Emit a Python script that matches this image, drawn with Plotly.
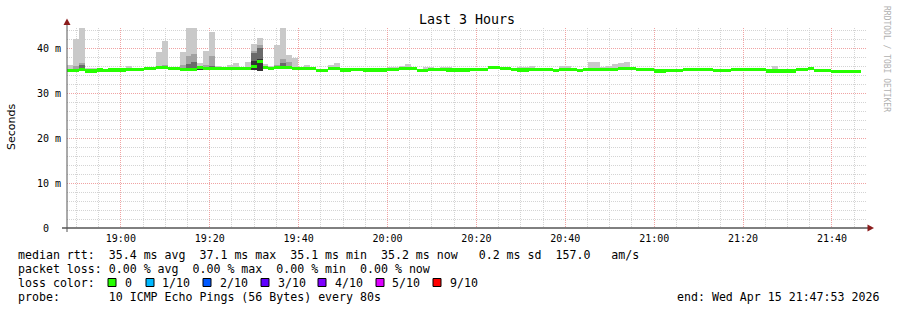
import numpy as np
import pandas as pd
import plotly.graph_objects as go

# ---------------- data ----------------
start_time = "2026-04-15 18:47:53"
end_time = "2026-04-15 21:47:53"
first_label_time = "2026-04-15 19:00:00"
step_seconds = 80

median_rtt = [
    35.0, 35.0, 35.2, 34.9, 34.9, 35.1, 35.0, 35.1, 35.1, 35.1,
    35.2, 35.2, 35.3, 35.4, 35.5, 35.6, 35.6, 35.5, 35.5, 35.2,
    35.2, 35.3, 35.6, 35.4, 35.5, 35.5, 35.4, 35.5, 35.4, 35.4,
    35.5, 35.9, 37.0, 35.6, 35.5, 35.6, 35.7, 35.6, 35.5, 35.4,
    35.4, 35.4, 35.0, 35.0, 35.5, 35.5, 35.1, 35.1, 35.3, 35.3,
    35.1, 35.1, 35.1, 35.1, 35.3, 35.3, 35.4, 35.4, 35.4, 35.0,
    35.0, 35.3, 35.3, 35.3, 35.1, 35.1, 35.1, 35.1, 35.3, 35.3,
    35.3, 35.6, 35.7, 35.4, 35.4, 35.2, 35.1, 35.1, 35.3, 35.3,
    35.3, 35.3, 35.0, 35.2, 35.2, 35.2, 35.0, 35.3, 35.3, 35.2,
    35.2, 35.2, 35.2, 35.4, 35.4, 35.4, 35.3, 35.3, 35.2, 34.9,
    34.9, 35.0, 35.0, 35.0, 35.2, 35.2, 35.2, 35.2, 35.2, 35.0,
    35.0, 35.0, 35.2, 35.2, 35.2, 35.2, 35.2, 35.2, 34.9, 34.9,
    34.9, 34.9, 34.9, 35.2, 35.2, 35.5, 35.0, 35.0, 35.0, 34.8,
    34.8, 34.8, 34.8, 34.8,
]

smoke_lo = [
    34.8, 34.8, 34.9, 34.7, 34.7, 34.9, 34.8, 34.9, 34.9, 34.9,
    35.0, 35.0, 35.1, 35.2, 35.2, 35.3, 35.3, 35.2, 35.2, 35.0,
    35.0, 35.0, 35.2, 35.1, 35.2, 35.2, 35.2, 35.2, 35.2, 35.2,
    35.2, 35.2, 35.0, 35.3, 35.2, 35.3, 35.3, 35.3, 35.2, 35.2,
    35.2, 35.2, 34.8, 34.8, 35.2, 35.2, 34.9, 34.9, 35.1, 35.1,
    34.9, 34.9, 34.9, 34.9, 35.1, 35.1, 35.2, 35.2, 35.2, 34.8,
    34.8, 35.1, 35.1, 35.1, 34.9, 34.9, 34.9, 34.9, 35.1, 35.1,
    35.1, 35.3, 35.4, 35.2, 35.2, 35.0, 34.9, 34.9, 35.1, 35.1,
    35.1, 35.1, 34.8, 35.0, 35.0, 35.0, 34.8, 35.1, 35.1, 35.0,
    35.0, 35.0, 35.0, 35.2, 35.2, 35.2, 35.1, 35.1, 35.0, 34.7,
    34.7, 34.8, 34.8, 34.8, 35.0, 35.0, 35.0, 35.0, 35.0, 34.8,
    34.8, 34.8, 35.0, 35.0, 35.0, 35.0, 35.0, 35.0, 34.7, 34.7,
    34.7, 34.7, 34.7, 35.0, 35.0, 35.3, 34.8, 34.8, 34.8, 34.6,
    34.6, 34.6, 34.6, 34.6,
]

smoke_hi = [
    36.3, 42.1, 44.4, 35.6, 35.5, 35.4, 35.4, 35.5, 35.4, 35.4,
    36.0, 35.5, 35.6, 35.7, 35.8, 39.1, 41.6, 35.8, 35.8, 39.1,
    44.4, 44.4, 36.7, 39.3, 43.6, 36.0, 35.7, 36.2, 36.7, 35.8,
    36.8, 40.9, 42.2, 36.4, 35.9, 40.7, 44.4, 38.4, 37.8, 35.8,
    36.3, 35.7, 35.4, 35.4, 36.3, 36.7, 35.5, 35.5, 35.6, 35.6,
    35.5, 35.5, 35.5, 35.5, 35.7, 35.7, 36.0, 36.4, 35.7, 35.4,
    35.8, 35.8, 35.6, 35.8, 35.8, 35.5, 35.5, 35.5, 35.6, 35.6,
    35.6, 35.9, 35.9, 35.7, 35.7, 35.5, 35.8, 35.8, 36.0, 35.6,
    35.6, 35.6, 35.4, 36.0, 36.0, 35.6, 35.4, 35.6, 36.8, 36.8,
    35.8, 35.9, 36.4, 36.6, 37.0, 35.7, 35.6, 35.6, 35.5, 35.2,
    35.2, 35.3, 35.3, 35.3, 35.5, 35.5, 35.5, 35.5, 35.5, 35.3,
    35.3, 35.3, 35.5, 35.5, 35.5, 35.5, 35.6, 35.5, 35.2, 36.0,
    35.2, 35.2, 35.2, 35.5, 35.5, 35.8, 35.3, 35.3, 35.3, 35.1,
    35.1, 35.1, 35.1, 35.1,
]

mid_steps = [1, 2, 15, 16, 19, 20, 21, 23, 24, 31, 32, 35, 36, 37]
mid_top = [36.1, 36.7, 35.9, 36.2, 36.3, 38.2, 38.7, 36.2, 38.2, 39.3, 40.6, 36.3, 37.6, 36.9]
dark_steps = [2, 20, 21, 24, 31, 32, 36]
dark_top = [36.2, 36.4, 37.0, 36.0, 38.8, 39.9, 36.6]
core_steps = [22, 31, 32]
core_top = [35.6, 37.2, 37.6]

y_tick_values = [0, 10, 20, 30, 40]
y_tick_labels = ["0\u00a0\u00a0", "10 m", "20 m", "30 m", "40 m"]

loss_labels = ["0", "1/10", "2/10", "3/10", "4/10", "5/10", "9/10"]
loss_colors = ["#26ff00", "#00b8ff", "#0059ff", "#5e00ff", "#7e00ff", "#dd00ff", "#ff0000"]

legend_rows = [
    "median rtt:  35.4 ms avg  37.1 ms max  35.1 ms min  35.2 ms now   0.2 ms sd  157.0   am/s",
    "packet loss: 0.00 % avg  0.00 % max  0.00 % min  0.00 % now",
    "loss color:",
    "probe:       10 ICMP Echo Pings (56 Bytes) every 80s",
]
end_label = "end: Wed Apr 15 21:47:53 2026"

# ---------------- derived ----------------
n = len(median_rtt)
t0 = pd.Timestamp(start_time)
t1 = pd.Timestamp(end_time)
step = pd.Timedelta(seconds=step_seconds)
centers = t0 + step * np.arange(n) + step / 2
width_ms = step_seconds * 1000
lo = np.array(smoke_lo)
med = np.array(median_rtt)

MONO = "DejaVu Sans Mono"
W, H = 897, 310
L, R, T, B = 67, 867, 28, 228


def px2x(px):
    return (px - L) / (R - L)


def py2y(py):
    return (B - py) / (B - T)


fig = go.Figure()


def band(idx, top, color):
    idx = np.array(idx, dtype=int)
    fig.add_trace(go.Bar(
        x=centers[idx], y=np.array(top) - lo[idx], base=lo[idx],
        width=width_ms, marker=dict(color=color, line=dict(width=0)),
        hoverinfo="skip", showlegend=False))


band(np.arange(n), smoke_hi, "#c9c9c9")
band(mid_steps, mid_top, "#a2a2a2")
band(dark_steps, dark_top, "#6a6a6a")
band(core_steps, core_top, "#333333")

line_h = 0.7
fig.add_trace(go.Bar(
    x=centers, y=np.full(n, line_h), base=med - line_h / 2,
    width=width_ms, marker=dict(color=loss_colors[0], line=dict(width=0)),
    hoverinfo="skip", showlegend=False))

grid_dash = "1px,1px"
major_grid = "#f0a3a3"
minor_grid = "#d4d4d4"
fig.update_layout(
    width=W, height=H, autosize=False,
    margin=dict(l=L, r=W - R, t=T, b=H - B, pad=0),
    paper_bgcolor="white", plot_bgcolor="white",
    barmode="overlay", bargap=0,
    font=dict(family=MONO, size=10, color="black"),
    showlegend=False,
    xaxis=dict(
        type="date", range=[t0, t1], showline=False, zeroline=False,
        tickmode="linear", tick0=first_label_time, dtick=20 * 60 * 1000,
        tickformat="%H:%M", ticks="", ticklabelstandoff=3,
        tickfont=dict(family=MONO, size=10),
        showgrid=True, gridcolor=major_grid, griddash=grid_dash, gridwidth=1,
        minor=dict(tickmode="linear", tick0=first_label_time, dtick=5 * 60 * 1000,
                   showgrid=True, gridcolor=minor_grid, griddash=grid_dash, gridwidth=1),
    ),
    yaxis=dict(
        range=[0, 200 / 4.5], showline=False, zeroline=False,
        tickmode="array", tickvals=y_tick_values, ticktext=y_tick_labels,
        ticks="", ticklabelstandoff=5,
        tickfont=dict(family=MONO, size=10),
        showgrid=True, gridcolor=major_grid, griddash=grid_dash, gridwidth=1,
        minor=dict(tickmode="linear", tick0=0, dtick=2, showgrid=True,
                   gridcolor=minor_grid, griddash=grid_dash, gridwidth=1),
    ),
)

shapes = [
    dict(type="line", xref="paper", yref="paper", x0=px2x(62), x1=px2x(868),
         y0=0, y1=0, line=dict(color="black", width=1)),
    dict(type="line", xref="paper", yref="paper", x0=0, x1=0,
         y0=py2y(232), y1=py2y(23), line=dict(color="#555555", width=1)),
    dict(type="path", xref="paper", yref="paper",
         path=f"M {px2x(67)} {py2y(18.5)} L {px2x(63.5)} {py2y(25)} L {px2x(70.5)} {py2y(25)} Z",
         fillcolor="#8b1c1c", line=dict(width=0)),
    dict(type="path", xref="paper", yref="paper",
         path=f"M {px2x(874)} {py2y(228)} L {px2x(867.5)} {py2y(224.5)} L {px2x(867.5)} {py2y(231.5)} Z",
         fillcolor="#8b1c1c", line=dict(width=0)),
]

box_left = [108, 146, 203, 261, 318, 376, 433]
label_left = [123, 160, 218, 276, 333, 390, 448]
for bx, col in zip(box_left, loss_colors):
    shapes.append(dict(type="rect", xref="paper", yref="paper",
                       x0=px2x(bx), x1=px2x(bx + 8), y0=py2y(286.5), y1=py2y(278.5),
                       fillcolor=col, line=dict(color="black", width=1)))
fig.update_layout(shapes=shapes)

LEG = 11.6
annotations = [
    dict(text="Last 3 Hours", x=448.5 / W, xref="paper", y=py2y(19), yref="paper",
         xanchor="center", yanchor="middle", showarrow=False,
         font=dict(family=MONO, size=13.3, color="black")),
    dict(text="Seconds", x=px2x(11), xref="paper", y=py2y(127), yref="paper",
         xanchor="center", yanchor="middle", showarrow=False, textangle=-90,
         font=dict(family="DejaVu Sans", size=11, color="black")),
    dict(text="RRDTOOL / TOBI OETIKER", x=px2x(887), xref="paper", y=py2y(59), yref="paper",
         xanchor="center", yanchor="middle", showarrow=False, textangle=90,
         font=dict(family=MONO, size=8, color="#b0b0b0")),
]
row_y = [254.5, 268.5, 282.5, 296.5]
for txt, yy in zip(legend_rows, row_y):
    annotations.append(dict(text=txt.replace(" ", "\u00a0"), x=px2x(16), xref="paper",
                            y=py2y(yy), yref="paper", xanchor="left", yanchor="middle",
                            showarrow=False, font=dict(family=MONO, size=LEG, color="black")))
for lx, lab in zip(label_left, loss_labels):
    annotations.append(dict(text=lab, x=px2x(lx), xref="paper", y=py2y(row_y[2]), yref="paper",
                            xanchor="left", yanchor="middle", showarrow=False,
                            font=dict(family=MONO, size=LEG, color="black")))
annotations.append(dict(text=end_label.replace(" ", "\u00a0"), x=px2x(881), xref="paper",
                        y=py2y(row_y[3]), yref="paper", xanchor="right", yanchor="middle",
                        showarrow=False, font=dict(family=MONO, size=LEG, color="black")))
fig.update_layout(annotations=annotations)

fig.write_html("out.html", config={"displayModeBar": False})
